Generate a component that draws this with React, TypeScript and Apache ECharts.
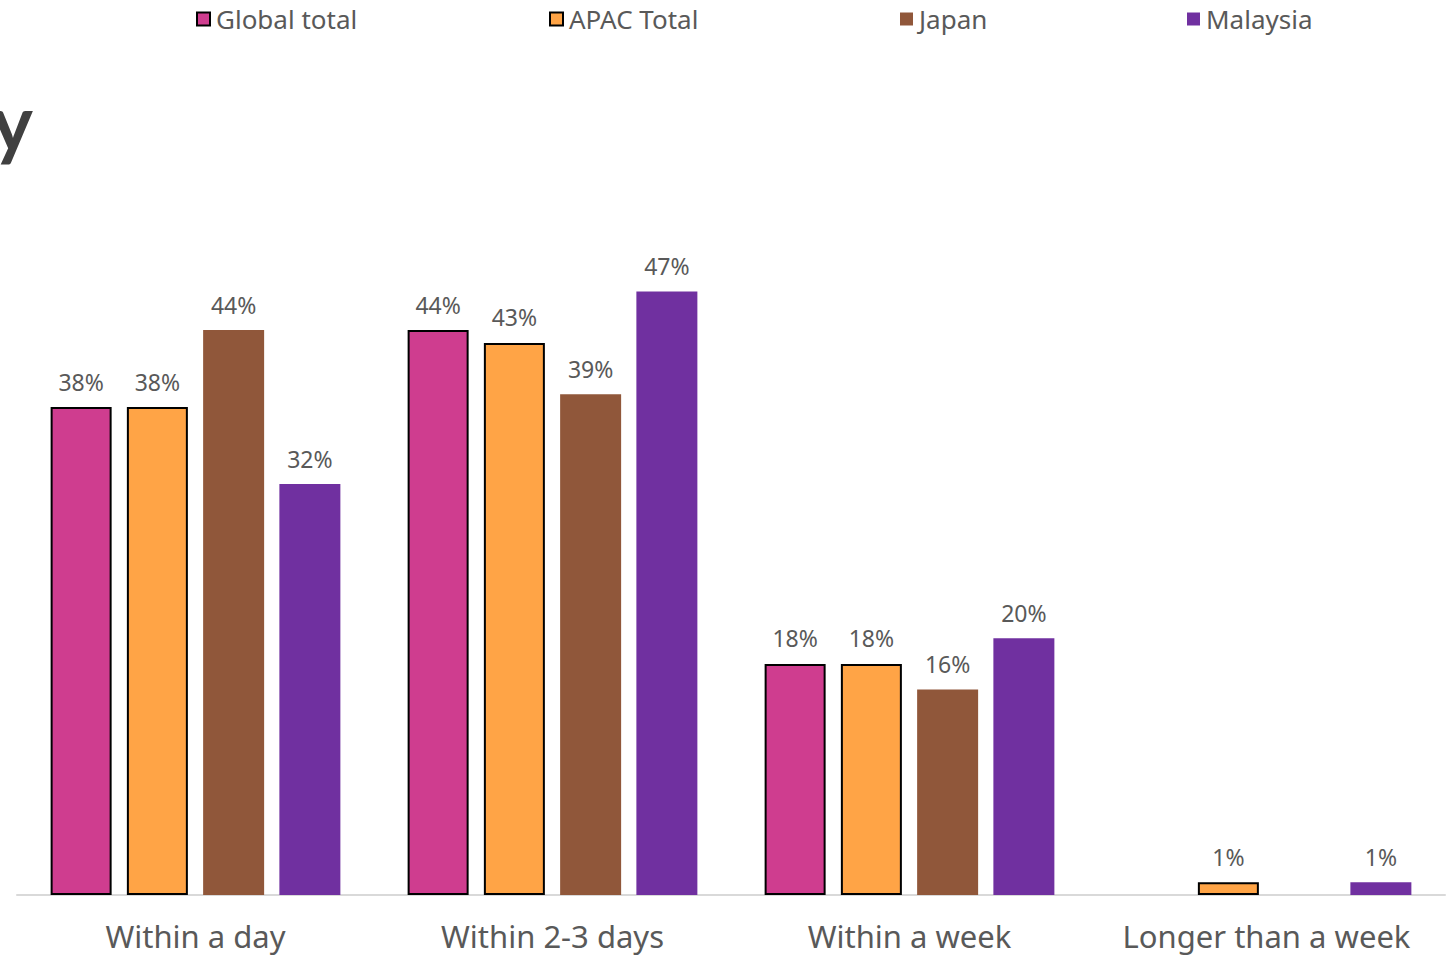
import React, { useEffect, useRef } from "react";
import * as echarts from "echarts";

const categories = ["Within a day", "Within 2-3 days", "Within a week", "Longer than a week"];
const seriesNames = ["Global total", "APAC Total", "Japan", "Malaysia"];
const globalTotal = [38, 44, 18, null];
const apacTotal = [38, 43, 18, 1];
const japan = [44, 39, 16, null];
const malaysia = [32, 47, 20, 1];
const seriesColors = ["#CF3D8F", "#FFA446", "#90573A", "#7030A0"];
const bordered = [true, true, false, false];
const legendLefts = [196, 549, 900, 1187];

const FONT = "'Noto Sans', Lato, sans-serif";

export default function App() {
  const ref = useRef<HTMLDivElement>(null);
  useEffect(() => {
    if (!ref.current) return;
    const chart = echarts.init(ref.current, null, { renderer: "svg" });
    const values = [globalTotal, apacTotal, japan, malaysia];
    const series = seriesNames.map((name, i) => ({
      name,
      type: "bar",
      data: values[i],
      barWidth: 61,
      barGap: "25%",
      itemStyle: {
        color: seriesColors[i],
        borderColor: bordered[i] ? "#000000" : seriesColors[i],
        borderWidth: bordered[i] ? 2 : 0,
      },
      label: {
        show: true,
        position: "top",
        distance: 14,
        formatter: "{c}%",
        fontFamily: FONT,
        fontSize: 23,
        color: "#595959",
      },
    }));
    chart.setOption({
      animation: false,
      backgroundColor: "#ffffff",
      legend: seriesNames.map((name, i) => ({
        data: [name],
        left: legendLefts[i],
        top: 6,
        padding: 0,
        itemWidth: 13,
        itemHeight: 13,
        itemGap: 6,
        icon: "rect",
        textStyle: { fontFamily: FONT, fontSize: 26, color: "#595959", padding: [0, 0, 0, 1] },
      })),
      graphic: [
        {
          type: "text",
          style: {
            text: "y",
            x: 33,
            y: 121,
            textAlign: "right",
            textVerticalAlign: "middle",
            fontFamily: "Lato, sans-serif",
            fontWeight: "bold",
            fontSize: 78,
            fill: "#404040",
          },
        },
      ],
      grid: { left: 17, right: 8, top: 253, bottom: 61, containLabel: false },
      xAxis: {
        type: "category",
        data: categories,
        axisLine: { show: true, lineStyle: { color: "#D9D9D9", width: 2 } },
        axisTick: { show: false },
        axisLabel: {
          interval: 0,
          hideOverlap: false,
          fontFamily: FONT,
          fontSize: 31,
          color: "#595959",
          margin: 25,
        },
      },
      yAxis: {
        type: "value",
        min: 0,
        max: 50,
        show: false,
        splitLine: { show: false },
      },
      series,
    });
    return () => chart.dispose();
  }, []);
  return (
    <div
      ref={ref}
      style={{ position: "fixed", left: 0, top: 0, width: 1453, height: 956 }}
    />
  );
}
